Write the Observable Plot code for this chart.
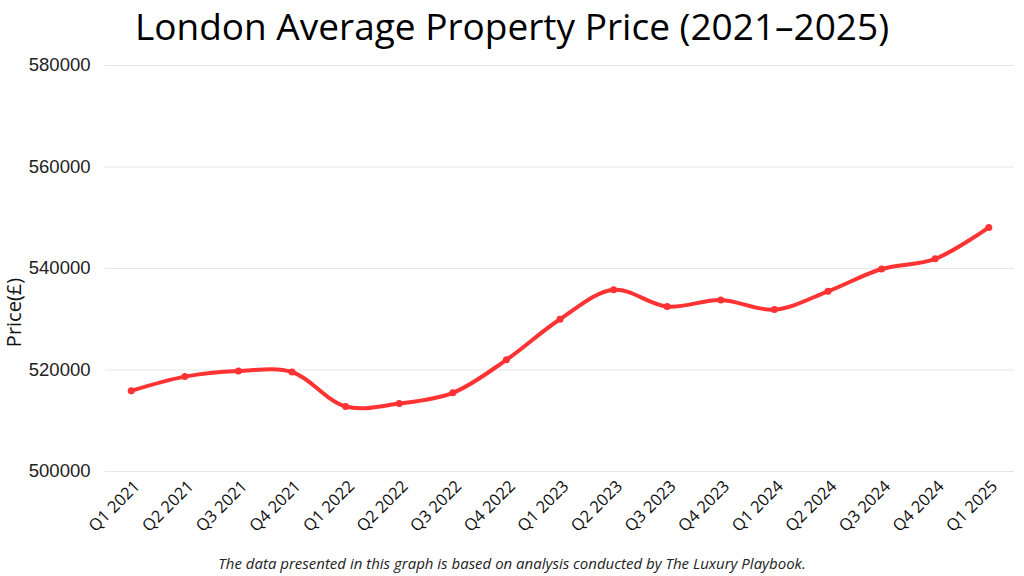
<!DOCTYPE html>
<html>
<head>
<meta charset="utf-8">
<script src="https://cdn.jsdelivr.net/npm/d3@7"></script>
<script src="https://cdn.jsdelivr.net/npm/@observablehq/plot@0.6"></script>
<style>
  html, body { margin: 0; padding: 0; background: #fff; width: 1024px; height: 576px; overflow: hidden; }
  #title { height: 50px; line-height: 52px; text-align: center; font-family: "Open Sans", sans-serif; font-size: 37px; color: #000; padding-left: 0px; }
  #caption { height: 31px; text-align: center; font-family: "Open Sans", sans-serif; font-style: italic; font-size: 15px; color: #222; padding-top: 9px; box-sizing: border-box; line-height: 18px; }
  #chart svg { display: block; }
</style>
</head>
<body>
<div id="title">London Average Property Price (2021–2025)</div>
<div id="chart"></div>
<div id="caption">The data presented in this graph is based on analysis conducted by The Luxury Playbook.</div>
<script>
const quarters = ["Q1 2021","Q2 2021","Q3 2021","Q4 2021","Q1 2022","Q2 2022","Q3 2022","Q4 2022","Q1 2023","Q2 2023","Q3 2023","Q4 2023","Q1 2024","Q2 2024","Q3 2024","Q4 2024","Q1 2025"];
const prices = [515900, 518700, 519800, 519600, 512800, 513400, 515500, 522000, 530000, 535800, 532500, 533800, 531900, 535500, 539900, 541900, 548100];
const yTicks = [500000, 520000, 540000, 560000, 580000];

const data = quarters.map((q, i) => ({quarter: q, price: prices[i]}));
const red = "#ff3333";

const chart = Plot.plot({
  width: 1024,
  height: 495,
  marginTop: 15,
  marginBottom: 74,
  marginLeft: 105,
  marginRight: 10,
  style: {background: "#fff", overflow: "visible"},
  x: {type: "point", domain: quarters, padding: 0.48, round: false, label: null},
  y: {domain: [500000, 580000], label: null},
  marks: [
    Plot.gridY(yTicks, {stroke: "#e6e6e6", strokeOpacity: 1, strokeWidth: 1}),
    Plot.axisY(yTicks, {tickSize: 0, tickPadding: 15, tickFormat: d => String(d), fontSize: 18.5, fontFamily: "Liberation Sans, Arial, sans-serif", fill: "#222", label: null}),
    Plot.axisX({tickSize: 0, tickPadding: 12, dx: 6, tickRotate: -45, fontSize: 16.5, fontFamily: "Open Sans, sans-serif", fill: "#111", label: null}),
    Plot.text(["Price(£)"], {frameAnchor: "left", textAnchor: "middle", dx: -91, dy: 44, rotate: -90, fontSize: 20, fontFamily: "Open Sans, sans-serif", fill: "#111"}),
    Plot.line(data, {x: "quarter", y: "price", stroke: red, strokeWidth: 4, curve: "catmull-rom"}),
    Plot.dot(data, {x: "quarter", y: "price", fill: red, r: 3.5})
  ]
});
document.getElementById("chart").appendChild(chart);
</script>
</body>
</html>
